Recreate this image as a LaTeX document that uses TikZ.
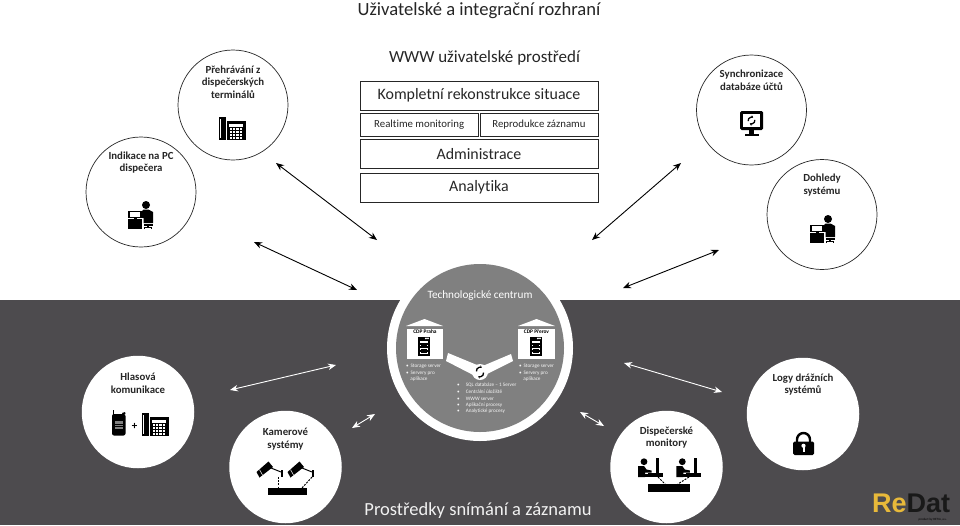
\documentclass[tikz,border=0pt]{standalone}
\usepackage{fontspec}
\setmainfont[Ligatures=NoCommon]{Carlito}
\newfontfamily\logofont{Liberation Sans}
\usetikzlibrary{arrows.meta}
\definecolor{band}{HTML}{4D4B4E}
\definecolor{midgray}{HTML}{808080}
\definecolor{ink}{HTML}{262626}
\definecolor{logoyellow}{HTML}{E8B93A}
\newcommand{\fs}[1]{\fontsize{#1}{#1}\selectfont}
\newcommand{\nudge}[1]{\raisebox{-1pt}{#1}}
\tikzset{
  x=1pt,y=-1pt,
  roundw/.style={circle,draw=ink,line width=.7pt,fill=white,minimum size=110pt,inner sep=0pt},
  rounddark/.style={circle,fill=white,minimum size=112.5pt,inner sep=0pt},
  lbl/.style={align=center,text=ink,font=\fs{10.8}\bfseries,inner sep=0pt},
  boxn/.style={draw=ink,line width=.9pt,fill=white,text=ink,inner sep=0pt,anchor=north west},
  titletxt/.style={text=ink,inner sep=0pt},
  barrow/.style={draw=black,line width=.9pt,{Stealth[length=8pt,width=6.5pt]}-{Stealth[length=8pt,width=6.5pt]}},
  warrow/.style={draw=white,line width=.9pt,{Stealth[length=8pt,width=6.5pt]}-{Stealth[length=8pt,width=6.5pt]}},
  techtxt/.style={text=white!92!midgray,inner sep=0pt,anchor=west,font=\fs{5.2}},
  cdp/.style={text=black,inner sep=0pt,font=\fs{5.4}\bfseries},
  dashline/.style={black,line width=1pt,dash pattern=on 2pt off 1.2pt},
  deskphone/.pic={
    \fill[black] (-13.5,-11.5) rectangle (-6,11.5);
    \fill[white] (-11.7,-9.5) rectangle (-11,9);
    \fill[black] (-5,-7.5) rectangle (13.5,11.5);
    \fill[white] (-3,-5) rectangle (11,-2);
    \foreach \a in {0,1,2,3}\foreach \b in {0,1,2,3}
      \fill[white] (-2.5+3.4*\a,-.2+2.8*\b) rectangle ++(2.2,1.8);
  },
  deskperson/.pic={
    \fill[black] (-12.5,-4.5) rectangle (2,3);
    \fill[white] (-10.5,-2.8) rectangle (-.5,1.5);
    \fill[black] (-12.5,4) rectangle (1,14);
    \fill[black] (-7,3) rectangle (-4,4);
    \fill[black] (5.5,-10) circle (4);
    \fill[black] (0,-2) -- (3,-5.5) -- (8,-5.5) -- (12.5,-3) -- (12.5,8) -- (3,8) -- (3,3) -- (0,1) -- cycle;
    \fill[black] (3,8.5) rectangle (12,10.5);
    \fill[black] (6.5,10.5) rectangle (8.5,12);
    \draw[black,line width=1.1pt] (4,14) -- (4,12.5) -- (11,12.5) -- (11,14);
  },
  syncmon/.pic={
    \fill[black,rounded corners=1.5pt] (-11.5,-12.5) rectangle (11.5,6.5);
    \fill[white] (-8.5,-9.5) rectangle (8.5,3.5);
    \fill[black] (-2.5,6) rectangle (2.5,10);
    \fill[black] (-7,10) rectangle (7,12.5);
    \draw[black,line width=1.3pt,-{Stealth[length=2.5pt,width=3pt]}] (-3.35,-2.4) arc (170:300:3.4);
    \draw[black,line width=1.3pt,-{Stealth[length=2.5pt,width=3pt]}] (3.35,-3.6) arc (350:480:3.4);
  },
  handheld/.pic={
    \fill[black] (-6.5,-14.5) rectangle (-5.3,-8);
    \fill[black] (3,-11) -- (6,-12) -- (6.5,-10) -- (4,-9) -- cycle;
    \fill[black,rounded corners=2pt] (-7,-10) rectangle (6.5,11.5);
    \fill[midgray] (-4,-3) rectangle (3.5,-.3);
    \fill[midgray] (-4,.8) rectangle (3.5,2.3);
    \fill[midgray] (-4,3.3) rectangle (3.5,4.6);
  },
  camera/.pic={
    \fill[black] (-8.5,3) -- (-5.5,8.5) -- (8,-2) -- (3.5,-7.5) -- cycle;
    \draw[white,line width=.5pt] (-5.5,.6) -- (-2.5,6);
    \draw[black,line width=1pt] (6,-1) -- (16,3);
    \fill[black] (16,1) rectangle (18,8);
  },
  seated/.pic={
    \fill[black] (-6,-6.3) circle (3.4);
    \fill[black] (-12,-2) -- (-6,-2) -- (-3.5,1.5) -- (1.5,2.5) -- (1.5,4.5) -- (-5,4.5) -- (-5,9) -- (-12,9) -- cycle;
    \fill[black] (6,-10) rectangle (8.5,5);
    \fill[black] (-2,5) rectangle (13,9);
    \fill[black] (-5,6) rectangle (0,9);
  },
  padlock/.pic={
    \draw[black,line width=2.4pt] (-6.5,-1) -- (-6.5,-4.5) arc (180:360:6.5) -- (6.5,-1);
    \fill[black,rounded corners=1.5pt] (-10.5,-2.5) rectangle (10.5,11);
    \fill[white] (0,1.8) circle (2.1);
    \fill[white] (-1,2) rectangle (1,8);
  },
  rack/.pic={
    \fill[black] (-6.5,-10) rectangle (6.5,10);
    \fill[white] (2,-8) circle (1.1);
    \fill[white] (4.2,-8) circle (1.1);
    \fill[white] (-4.5,-5.3) rectangle (4.5,-3);
    \foreach \v in {-1.5,2.2,5.9}{\fill[white] (-4.5,\v) rectangle (4.5,\v+2);\fill[black] (-3.5,\v+.6) rectangle (3.5,\v+1.4);}
  }
}
\begin{document}
\begin{tikzpicture}
\useasboundingbox (0,0) rectangle (960,525);
\fill[white] (0,0) rectangle (960,525);
\fill[band] (0,300) rectangle (960,525);

% top title and boxes
\node[titletxt,font=\fs{18.6}] (title) at (479,10.5) {Uživatelské a integrační rozhraní};
\node[titletxt,font=\fs{17}] (www) at (484.5,58) {WWW uživatelské prostředí};
\node[boxn,minimum width=238pt,minimum height=28.5pt,font=\fs{15.9}] (kompl) at (359.5,81) {\nudge{Kompletní rekonstrukce situace}};
\node[boxn,minimum width=118.5pt,minimum height=23pt,font=\fs{10.8}] (real) at (359.5,113) {Realtime monitoring};
\node[boxn,minimum width=118pt,minimum height=23pt,font=\fs{10.8}] (repro) at (479.5,113) {Reprodukce záznamu};
\node[boxn,minimum width=238pt,minimum height=29pt,font=\fs{15.9}] (admin) at (359.5,139) {\nudge{Administrace}};
\node[boxn,minimum width=238pt,minimum height=29pt,font=\fs{15.9}] (analyt) at (359.5,172.7) {\nudge{Analytika}};

% top circles
\node[roundw] (prehr) at (233,105) {};
\node[roundw] (indik) at (141,192) {};
\node[roundw] (sync) at (751.5,110) {};
\node[roundw] (dohl) at (822,214.5) {};
\node[lbl] (prehrt) at (233,82) {Přehrávání z\\[1.9pt]dispečerských\\[1.9pt]terminálů};
\node[lbl] (indikt) at (141,162.5) {Indikace na PC\\[1.9pt]dispečera};
\node[lbl] (synct) at (751.5,80.5) {Synchronizace\\[1.9pt]databáze účtů};
\node[lbl] (dohlt) at (822,185) {Dohledy\\[1.9pt]systému};
\pic at (232,128.5) {deskphone};
\pic at (140.5,215) {deskperson};
\pic at (751.5,123.5) {syncmon};
\pic at (822.5,229) {deskperson};

% bottom circles
\node[rounddark] (hlas) at (138,412) {};
\node[rounddark] (logy) at (803,414) {};
\node[rounddark] (kam) at (285.5,467) {};
\node[rounddark] (disp) at (666.5,467) {};
\node[lbl] (hlast) at (138,383) {Hlasová\\[1.9pt]komunikace};
\node[lbl] (logyt) at (803,384.5) {Logy drážních\\[1.9pt]systémů};
\node[lbl] (kamt) at (285.5,439) {Kamerové\\[1.9pt]systémy};
\node[lbl] (dispt) at (666.5,437.5) {Dispečerské\\[1.9pt]monitory};
\pic at (119,424) {handheld};
\node[inner sep=0pt,text=black,font=\fs{11}\bfseries] (plus) at (134.5,426) {+};
\pic at (155,424.5) {deskphone};
\pic at (265,469) {camera};
\pic at (296,469) {camera};
\fill[black] (268,488) rectangle (307,495);
\draw[dashline] (278,477) -- (278,488);
\draw[dashline] (312,477) -- (302,488);
\pic at (650,468) {seated};
\pic at (688.3,468) {seated};
\fill[black] (648,484) rectangle (689.5,492);
\draw[dashline] (658,477) -- (665,484);
\draw[dashline] (689,477) -- (678,484);
\pic at (803.5,444) {padlock};

% technology centre
\node[circle,fill=white,minimum size=186pt,inner sep=0pt] (ring) at (480,348) {};
\node[circle,fill=midgray,minimum size=168pt,inner sep=0pt] (tech) at (480,348) {};
\node[inner sep=0pt,text=white,font=\fs{11.2}] (techt) at (480,295.5) {Technologické centrum};
\fill[white] (406,326) -- (424.5,319) -- (443,326) -- cycle;
\fill[white] (518,326) -- (536.5,319) -- (555,326) -- cycle;
\node[fill=white,minimum width=36pt,minimum height=30pt,inner sep=0pt] (praha) at (425,344) {};
\node[fill=white,minimum width=37pt,minimum height=30pt,inner sep=0pt] (prerov) at (536.5,344) {};
\node[cdp] (prahat) at (425,332) {CDP Praha};
\node[cdp] (prerovt) at (536.5,332) {CDP Přerov};
\pic[scale=.95] at (424,346) {rack};
\pic[scale=.95] at (536,346) {rack};
\fill[white] (448,353) -- (477,365) -- (485,365) -- (511,354) -- (513,361) -- (479,378) -- (446,361) -- cycle;
\node[circle,fill=white,minimum size=16pt,inner sep=0pt] (hub) at (480,372) {};
\draw[black,line width=1.3pt,-{Stealth[length=2.2pt,width=3pt]}] (476.45,371.4) arc (170:300:3.6);
\draw[black,line width=1.3pt,-{Stealth[length=2.2pt,width=3pt]}] (483.55,372.6) arc (350:480:3.6);
\node[techtxt] (l1) at (406,366) {•\hspace{1.8pt}Storage server};
\node[techtxt] (l2) at (406,373) {•\hspace{1.8pt}Servery pro};
\node[techtxt] (l3) at (410.2,379.5) {aplikace};
\node[techtxt] (r1) at (519,366) {•\hspace{1.8pt}Storage server};
\node[techtxt] (r2) at (519,373) {•\hspace{1.8pt}Servery pro};
\node[techtxt] (r3) at (523.2,379.5) {aplikace};
\node[techtxt] (c1) at (457,385) {•\hspace{6pt}SQL databáze – 1 Server};
\node[techtxt] (c2) at (457,392) {•\hspace{6pt}Centrální úložiště};
\node[techtxt] (c3) at (457,398.5) {•\hspace{6pt}WWW server};
\node[techtxt] (c4) at (457,405) {•\hspace{6pt}Aplikační procesy};
\node[techtxt] (c5) at (457,411.5) {•\hspace{6pt}Analytické procesy};

% arrows
\coordinate (a1a) at (276,163); \coordinate (a1b) at (377,240);
\coordinate (a2a) at (254,242); \coordinate (a2b) at (357,290);
\coordinate (a3a) at (681,163); \coordinate (a3b) at (592,240);
\coordinate (a4a) at (719,250); \coordinate (a4b) at (623,288);
\coordinate (a5a) at (230,390); \coordinate (a5b) at (336,365);
\coordinate (a6a) at (352,428); \coordinate (a6b) at (375,414);
\coordinate (a7a) at (624,363); \coordinate (a7b) at (722,392);
\coordinate (a8a) at (580,412); \coordinate (a8b) at (604,426);
\draw[barrow] (a1a) -- (a1b);
\draw[barrow] (a2a) -- (a2b);
\draw[barrow] (a3a) -- (a3b);
\draw[barrow] (a4a) -- (a4b);
\draw[warrow] (a5a) -- (a5b);
\draw[warrow] (a6a) -- (a6b);
\draw[warrow] (a7a) -- (a7b);
\draw[warrow] (a8a) -- (a8b);

\node[inner sep=0pt,text=white!92!band,font=\fs{18.5}] (bottom) at (478,510.5) {Prostředky snímání a záznamu};

% logo
\node[inner sep=0pt,anchor=base west,text depth=0pt,font=\logofont\fs{27}\bfseries] (logo) at (872,512.5) {\textcolor{logoyellow}{Re}\textcolor{black!90}{Dat}};
\node[inner sep=0pt,anchor=east,text=black,font=\fs{3.2}] (prod) at (947,519.5) {product by RETIA, a.s.};
\end{tikzpicture}
\end{document}
